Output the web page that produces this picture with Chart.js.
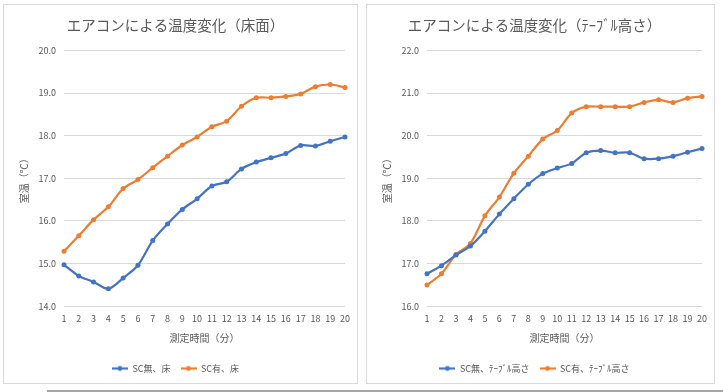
<!DOCTYPE html>
<html lang="ja">
<head>
<meta charset="UTF-8" />
<title>エアコンによる温度変化</title>
<style>
    body {
        margin: 0;
        background: #ffffff;
        width: 723px;
        height: 392px;
        position: relative;
        overflow: hidden;
        font-family: "Noto Sans CJK JP", sans-serif;
    }

    .box {
        position: absolute;
        top: 4px;
        height: 378px;
        border: 1px solid #d9d9d9;
        background: #fff;
    }

    #boxFloor { left: 3px; width: 353px; }
    #boxTable { left: 366px; width: 347px; }

    .rule {
        position: absolute;
        left: 47px;
        right: 0;
        top: 390px;
        height: 2px;
        background: #a6a6a6;
    }
</style>
<script src="https://cdn.jsdelivr.net/npm/chart.js"></script>
</head>
<body>
<div class="box" id="boxFloor"><canvas id="floorChart"></canvas></div>
<div class="box" id="boxTable"><canvas id="tableChart"></canvas></div>
<div class="rule"></div>

<script>
// 測定時間（分）
const minutes = ['1','2','3','4','5','6','7','8','9','10','11','12','13','14','15','16','17','18','19','20'];

// 床面
const noScFloor = [14.97, 14.71, 14.57, 14.41, 14.66, 14.96, 15.54, 15.93, 16.27, 16.52,
                   16.82, 16.92, 17.22, 17.38, 17.48, 17.58, 17.77, 17.76, 17.87, 17.97];
const scFloor   = [15.29, 15.65, 16.03, 16.33, 16.76, 16.97, 17.25, 17.52, 17.78, 17.97,
                   18.21, 18.34, 18.69, 18.89, 18.89, 18.92, 18.98, 19.15, 19.20, 19.13];

// テーブル高さ
const noScTable = [16.76, 16.95, 17.20, 17.41, 17.76, 18.16, 18.52, 18.86, 19.11, 19.24,
                   19.35, 19.60, 19.65, 19.60, 19.60, 19.46, 19.46, 19.52, 19.61, 19.70];
const scTable   = [16.50, 16.76, 17.21, 17.47, 18.12, 18.56, 19.12, 19.52, 19.92, 20.12,
                   20.53, 20.68, 20.68, 20.68, 20.68, 20.78, 20.84, 20.78, 20.88, 20.92];

const floorRange = [14, 20];
const tableRange = [16, 22];

const BLUE = '#4472c4';
const ORANGE = '#ed7d31';
const TEXT = '#595959';
const GRID = '#d9d9d9';
const FONT = '"Noto Sans CJK JP", sans-serif';

// 凡例用のマーカー（線＋点）
function legendMark(color) {
    const c = document.createElement('canvas');
    c.width = 16;
    c.height = 8;
    const g = c.getContext('2d');
    g.strokeStyle = color;
    g.lineWidth = 2.2;
    g.beginPath();
    g.moveTo(0, 4);
    g.lineTo(16, 4);
    g.stroke();
    g.fillStyle = color;
    g.beginPath();
    g.arc(8, 4, 2.4, 0, Math.PI * 2);
    g.fill();
    return c;
}

function makeChart(id, title, range, names, seriesA, seriesB, rightPad) {
    const colors = [BLUE, ORANGE];
    const data = [seriesA, seriesB];
    return new Chart(document.getElementById(id), {
        type: 'line',
        data: {
            labels: minutes,
            datasets: names.map((n, i) => ({
                label: n,
                data: data[i],
                borderColor: colors[i],
                backgroundColor: colors[i],
                borderWidth: 2.2,
                pointRadius: 2.5,
                pointBorderWidth: 0,
                pointBackgroundColor: colors[i],
                tension: 0.3,
                fill: false
            }))
        },
        options: {
            responsive: true,
            maintainAspectRatio: false,
            animation: false,
            layout: { padding: { left: 0, right: rightPad, top: 0, bottom: 0 } },
            plugins: {
                title: {
                    display: true,
                    text: title,
                    color: TEXT,
                    font: { family: FONT, size: 14.5, weight: 'normal' },
                    padding: { top: 12, bottom: 16 }
                },
                legend: {
                    position: 'bottom',
                    labels: {
                        usePointStyle: true,
                        pointStyleWidth: 16,
                        color: TEXT,
                        font: { family: FONT, size: 9 },
                        padding: 10,
                        generateLabels: chart => chart.data.datasets.map((d, i) => ({
                            text: d.label,
                            pointStyle: legendMark(d.borderColor),
                            fillStyle: d.borderColor,
                            strokeStyle: d.borderColor,
                            lineWidth: 0,
                            fontColor: TEXT,
                            datasetIndex: i
                        }))
                    }
                },
                tooltip: { enabled: false }
            },
            scales: {
                x: {
                    grid: { display: false, drawTicks: false },
                    border: { display: false },
                    ticks: { color: TEXT, font: { family: FONT, size: 9 }, padding: 7, maxRotation: 0, autoSkip: false },
                    title: {
                        display: true,
                        text: '測定時間（分）',
                        color: TEXT,
                        font: { family: FONT, size: 10 },
                        padding: { top: 1, bottom: 10 }
                    }
                },
                y: {
                    min: range[0],
                    max: range[1],
                    grid: { color: GRID, lineWidth: 1, drawTicks: false },
                    border: { display: false },
                    ticks: {
                        stepSize: 1,
                        color: TEXT,
                        font: { family: FONT, size: 9 },
                        padding: 8,
                        callback: v => v.toFixed(1)
                    },
                    title: {
                        display: true,
                        text: '室温（℃）',
                        color: TEXT,
                        font: { family: FONT, size: 10 },
                        padding: { top: 14, bottom: 0 }
                    },
                    afterFit: s => { s.width = 60; }
                }
            }
        }
    });
}

makeChart('floorChart', 'エアコンによる温度変化（床面）', floorRange,
    ['SC無、床', 'SC有、床'], noScFloor, scFloor, 10);
makeChart('tableChart', 'エアコンによる温度変化（ﾃｰﾌﾞﾙ高さ）', tableRange,
    ['SC無、ﾃｰﾌﾞﾙ高さ', 'SC有、ﾃｰﾌﾞﾙ高さ'], noScTable, scTable, 12);
</script>
</body>
</html>
